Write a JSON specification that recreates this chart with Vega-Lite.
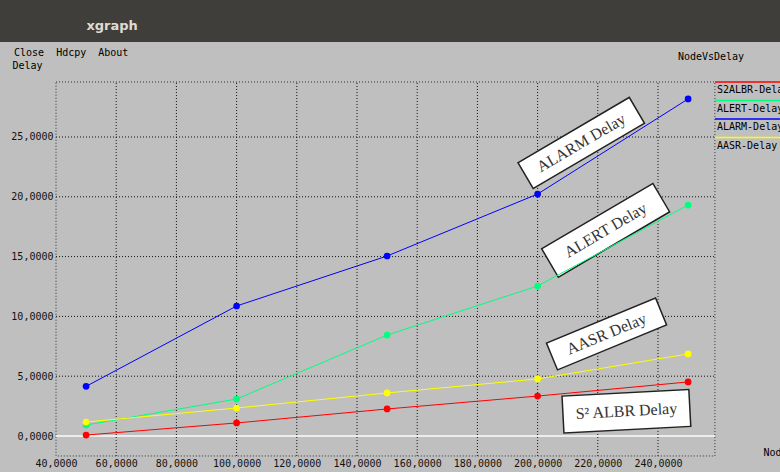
{
  "$schema": "https://vega.github.io/schema/vega-lite/v6.json",
  "width": 780,
  "height": 430,
  "autosize": {"type": "none"},
  "padding": {"left": 0, "top": 42, "right": 0, "bottom": 0},
  "background": "#3f3e3a",
  "view": {"fill": "#bfbfbf", "stroke": null},
  "title": {
    "text": "\u200b\u00a0\u00a0\u00a0\u00a0\u00a0\u00a0\u00a0\u00a0\u00a0\u00a0\u00a0\u00a0\u00a0\u00a0\u00a0\u00a0xgraph",
    "subtitle": "Close\u00a0\u00a0Hdcpy\u00a0\u00a0About",
    "anchor": "start",
    "frame": "group",
    "orient": "top",
    "offset": -16,
    "dx": 14,
    "font": "DejaVu Sans",
    "fontSize": 13,
    "fontWeight": "bold",
    "color": "#dfdbd2",
    "subtitleFont": "DejaVu Sans Mono",
    "subtitleFontSize": 10,
    "subtitleColor": "#000000",
    "subtitlePadding": 15
  },
  "datasets": {
    "series": [
      {"series": "S2ALBR-Delay", "node": 50, "delay": 0.08},
      {"series": "S2ALBR-Delay", "node": 100, "delay": 1.09},
      {"series": "S2ALBR-Delay", "node": 150, "delay": 2.26},
      {"series": "S2ALBR-Delay", "node": 200, "delay": 3.34},
      {"series": "S2ALBR-Delay", "node": 250, "delay": 4.52},
      {"series": "ALERT-Delay", "node": 50, "delay": 0.92},
      {"series": "ALERT-Delay", "node": 100, "delay": 3.09},
      {"series": "ALERT-Delay", "node": 150, "delay": 8.44},
      {"series": "ALERT-Delay", "node": 200, "delay": 12.54},
      {"series": "ALERT-Delay", "node": 250, "delay": 19.31},
      {"series": "ALARM-Delay", "node": 50, "delay": 4.15},
      {"series": "ALARM-Delay", "node": 100, "delay": 10.87},
      {"series": "ALARM-Delay", "node": 150, "delay": 15.05},
      {"series": "ALARM-Delay", "node": 200, "delay": 20.23},
      {"series": "ALARM-Delay", "node": 250, "delay": 28.18},
      {"series": "AASR-Delay", "node": 50, "delay": 1.17},
      {"series": "AASR-Delay", "node": 100, "delay": 2.34},
      {"series": "AASR-Delay", "node": 150, "delay": 3.6},
      {"series": "AASR-Delay", "node": 200, "delay": 4.77},
      {"series": "AASR-Delay", "node": 250, "delay": 6.86}
    ],
    "notes": [
      {"label": "ALARM Delay", "node": 214.5, "delay": 24.5},
      {"label": "ALERT Delay", "node": 222.6, "delay": 17.2},
      {"label": "AASR Delay", "node": 222.9, "delay": 8.53},
      {"label": "S² ALBR Delay", "node": 229.5, "delay": 2.07}
    ]
  },
  "layer": [
    {
      "data": {"values": [{"v": 60}, {"v": 80}, {"v": 100}, {"v": 120}, {"v": 140}, {"v": 160}, {"v": 180}, {"v": 200}, {"v": 220}, {"v": 240}]},
      "mark": {"type": "rule", "stroke": "#111111", "strokeWidth": 1, "strokeDash": [1, 2]},
      "encoding": {
        "x": {"field": "v", "type": "quantitative"},
        "y": {"datum": -1.67},
        "y2": {"datum": 29.6}
      }
    },
    {
      "data": {"values": [{"v": 5}, {"v": 10}, {"v": 15}, {"v": 20}, {"v": 25}]},
      "mark": {"type": "rule", "stroke": "#111111", "strokeWidth": 1, "strokeDash": [1, 2]},
      "encoding": {
        "y": {"field": "v", "type": "quantitative"},
        "x": {"datum": 40},
        "x2": {"datum": 258.9}
      }
    },
    {
      "data": {"values": [{}]},
      "mark": {"type": "rect", "fill": null, "stroke": "#333333", "strokeWidth": 1, "strokeDash": [1, 2]},
      "encoding": {
        "x": {"datum": 40},
        "x2": {"datum": 258.9},
        "y": {"datum": -1.67},
        "y2": {"datum": 29.6}
      }
    },
    {
      "data": {"values": [{}]},
      "mark": {"type": "rule", "stroke": "#ececec", "strokeWidth": 2},
      "encoding": {
        "y": {"datum": 0},
        "x": {"datum": 40},
        "x2": {"datum": 258.9}
      }
    },
    {
      "data": {"name": "notes"},
      "mark": {"type": "point", "filled": true, "fill": "#ffffff", "stroke": "#222222", "strokeWidth": 1.5, "opacity": 1, "size": 16641},
      "encoding": {
        "x": {"field": "node", "type": "quantitative"},
        "y": {"field": "delay", "type": "quantitative"},
        "shape": {
          "field": "label", "type": "nominal", "legend": null,
          "scale": {
            "domain": ["ALARM Delay", "ALERT Delay", "AASR Delay", "S² ALBR Delay"],
            "range": [
              "M-1,-0.2326L1,-0.2326L1,0.2326L-1,0.2326Z",
              "M-1,-0.2558L1,-0.2558L1,0.2558L-1,0.2558Z",
              "M-0.9147,-0.2248L0.9147,-0.2248L0.9147,0.2248L-0.9147,0.2248Z",
              "M-0.9845,-0.2868L0.9845,-0.2868L0.9845,0.2868L-0.9845,0.2868Z"
            ]
          }
        },
        "angle": {
          "field": "label", "type": "nominal", "legend": null,
          "scale": {
            "type": "ordinal",
            "domain": ["ALARM Delay", "ALERT Delay", "AASR Delay", "S² ALBR Delay"],
            "range": [329.6, 329.6, 337.6, 357]
          }
        }
      }
    },
    {
      "data": {"name": "notes"},
      "mark": {"type": "text", "font": "Liberation Serif", "fontSize": 16, "color": "#333333", "align": "center", "baseline": "middle"},
      "encoding": {
        "x": {"field": "node", "type": "quantitative"},
        "y": {"field": "delay", "type": "quantitative"},
        "text": {"field": "label", "type": "nominal"},
        "angle": {
          "field": "label", "type": "nominal", "legend": null,
          "scale": {
            "type": "ordinal",
            "domain": ["ALARM Delay", "ALERT Delay", "AASR Delay", "S² ALBR Delay"],
            "range": [329.6, 329.6, 337.6, 357]
          }
        }
      }
    },
    {
      "data": {"name": "series"},
      "mark": {"type": "line", "strokeWidth": 1, "point": {"filled": true, "size": 45, "opacity": 1}},
      "encoding": {
        "x": {
          "field": "node", "type": "quantitative",
          "scale": {"domain": [21.395, 280.53], "nice": false, "zero": false},
          "axis": {
            "values": [40, 60, 80, 100, 120, 140, 160, 180, 200, 220, 240],
            "labelExpr": "replace(format(datum.value, '.4f'), '.', ',')",
            "ticks": false, "domain": false, "grid": false,
            "offset": -16, "labelPadding": 2,
            "labelFont": "DejaVu Sans Mono", "labelFontSize": 10, "labelColor": "#111111",
            "labelFlush": false, "labelOverlap": false,
            "title": "Nodes", "titleX": 763, "titleY": -4, "titleAlign": "left", "titleBaseline": "middle",
            "titleFont": "DejaVu Sans Mono", "titleFontSize": 10, "titleFontWeight": "normal", "titleColor": "#000000"
          }
        },
        "y": {
          "field": "delay", "type": "quantitative",
          "scale": {"domain": [-3.01, 32.943], "nice": false, "zero": false},
          "axis": {
            "values": [0, 5, 10, 15, 20, 25],
            "labelExpr": "replace(format(datum.value, '.4f'), '.', ',')",
            "ticks": false, "domain": false, "grid": false,
            "offset": -56, "labelPadding": 3,
            "labelFont": "DejaVu Sans Mono", "labelFontSize": 10, "labelColor": "#111111",
            "labelOverlap": false,
            "title": "Delay", "titleAngle": 0, "titleX": -44, "titleY": 23, "titleAlign": "left", "titleBaseline": "middle",
            "titleFont": "DejaVu Sans Mono", "titleFontSize": 10, "titleFontWeight": "normal", "titleColor": "#000000"
          }
        },
        "color": {
          "field": "series", "type": "nominal",
          "scale": {
            "domain": ["S2ALBR-Delay", "ALERT-Delay", "ALARM-Delay", "AASR-Delay"],
            "range": ["#ff0000", "#00ff7f", "#0000ff", "#ffff00"]
          },
          "legend": {
            "orient": "none", "legendX": 678, "legendY": 10,
            "title": "NodeVsDelay", "titleFont": "DejaVu Sans Mono", "titleFontSize": 10, "titleFontWeight": "normal",
            "titleColor": "#000000", "titleAlign": "center", "titleAnchor": "start", "titlePadding": 23,
            "symbolType": "M-1,-8H72", "symbolSize": 4, "symbolStrokeWidth": 1.5,
            "labelFont": "DejaVu Sans Mono", "labelFontSize": 10, "labelColor": "#000000", "labelOffset": -4,
            "rowPadding": 2.5, "padding": 0,
            "encode": {"symbols": {"update": {
              "stroke": {"scale": "color", "field": "value"},
              "fill": {"value": "transparent"},
              "size": {"value": 4},
              "shape": {"value": "M-1,-8H72"},
              "strokeWidth": {"value": 1.5}
            }}}
          }
        }
      }
    }
  ]
}
